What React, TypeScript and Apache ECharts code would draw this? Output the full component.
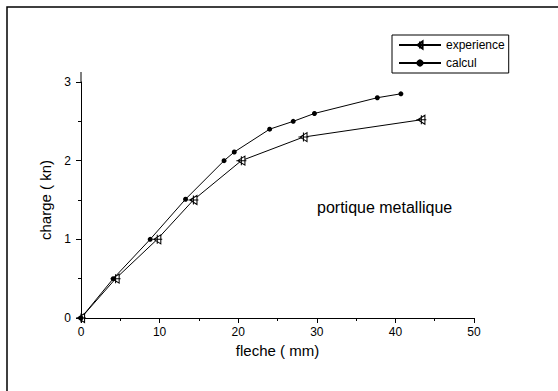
import React, { useEffect, useRef } from "react";
import * as echarts from "echarts";

const experienceX = [0, 4.4, 9.7, 14.3, 20.4, 28.3, 43.3];
const experienceY = [0, 0.5, 1.0, 1.5, 2.0, 2.3, 2.52];
const calculX = [0, 4.1, 8.8, 13.3, 18.2, 19.5, 24.0, 27.0, 29.7, 37.7, 40.7];
const calculY = [0, 0.5, 1.0, 1.51, 2.0, 2.11, 2.4, 2.5, 2.6, 2.8, 2.85];
const seriesNames = ["experience", "calcul"];
const xTitle = "fleche ( mm)";
const yTitle = "charge ( kn)";
const note = "portique metallique";

const triSymbol = "path://M0,5 L10,0 L10,10 Z M5,0 L5,10 M-2,5 L12,5";
const FONT = "Liberation Sans, Arial, sans-serif";

export default function App() {
  const ref = useRef<HTMLDivElement>(null);
  useEffect(() => {
    if (!ref.current) return;
    const chart = echarts.init(ref.current, undefined, { renderer: "svg" });
    const axisCommon = {
      type: "value" as const,
      axisLine: { show: true, onZero: false, lineStyle: { color: "#000", width: 1 } },
      axisTick: { show: true, inside: false, length: 5, lineStyle: { color: "#000" } },
      minorTick: { show: true, splitNumber: 2, length: 3, lineStyle: { color: "#000" } },
      splitLine: { show: false },
      axisLabel: { color: "#000", fontSize: 12, fontFamily: FONT },
      nameTextStyle: { color: "#000", fontSize: 15, fontFamily: FONT },
    };
    chart.setOption({
      animation: false,
      backgroundColor: "#fff",
      grid: { left: 81, right: 84, top: 82, bottom: 73 },
      xAxis: {
        ...axisCommon,
        min: 0,
        max: 50,
        interval: 10,
        name: xTitle,
        nameLocation: "middle",
        nameGap: 25,
        axisLabel: { ...axisCommon.axisLabel, margin: 8 },
      },
      yAxis: {
        ...axisCommon,
        min: 0,
        max: 3,
        interval: 1,
        name: yTitle,
        nameLocation: "middle",
        nameGap: 27,
        axisLabel: { ...axisCommon.axisLabel, margin: 10 },
      },
      legend: {
        show: true,
        orient: "vertical",
        left: 392,
        top: 35,
        borderColor: "#000",
        borderWidth: 1,
        padding: [4, 4, 4, 6],
        itemWidth: 42,
        itemHeight: 9,
        itemGap: 6,
        textStyle: { color: "#000", fontSize: 12, fontFamily: FONT },
        data: seriesNames,
      },
      series: [
        {
          name: seriesNames[0],
          type: "line",
          data: experienceX.map((x, i) => [x, experienceY[i]]),
          symbol: triSymbol,
          symbolSize: [10, 9],
          showAllSymbol: true,
          lineStyle: { color: "#000", width: 1 },
          itemStyle: { color: "#fff", borderColor: "#000", borderWidth: 1 },
        },
        {
          name: seriesNames[1],
          type: "line",
          data: calculX.map((x, i) => [x, calculY[i]]),
          symbol: "circle",
          symbolSize: 5,
          showAllSymbol: true,
          lineStyle: { color: "#000", width: 1 },
          itemStyle: { color: "#000" },
        },
      ],
      graphic: [
        {
          type: "rect",
          shape: { x: 7, y: 7, width: 700, height: 700 },
          style: { fill: "none", stroke: "#000", lineWidth: 1.5 },
          silent: true,
        },
        {
          type: "line",
          shape: { x1: 81, y1: 72, x2: 81, y2: 82 },
          style: { stroke: "#000", lineWidth: 1 },
        },
        {
          type: "text",
          left: 317,
          top: 199,
          style: { text: note, fill: "#000", fontSize: 16, fontFamily: FONT },
        },
      ],
    });
    return () => chart.dispose();
  }, []);
  return (
    <div
      ref={ref}
      style={{ position: "fixed", left: 0, top: 0, width: 558, height: 391 }}
    />
  );
}
